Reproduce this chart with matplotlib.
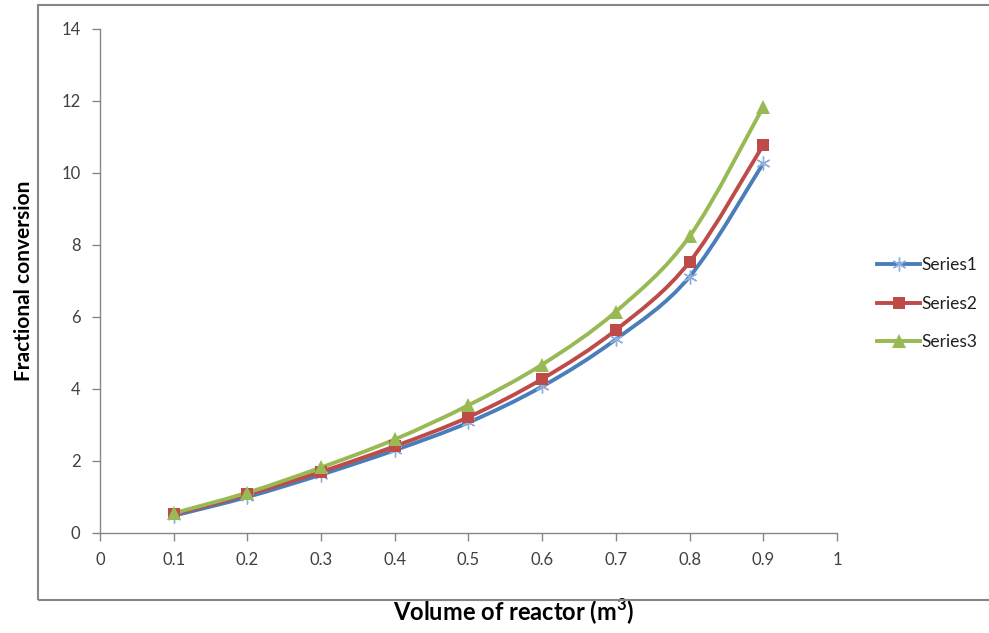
import matplotlib.pyplot as plt
import numpy as np
from matplotlib.path import Path
from matplotlib.patches import PathPatch, Rectangle
from matplotlib.lines import Line2D

plt.rcParams['font.family'] = ['Lato', 'DejaVu Sans']
plt.rcParams['mathtext.fontset'] = 'custom'
plt.rcParams['mathtext.bf'] = 'Lato:bold'

volume = [0.1, 0.2, 0.3, 0.4, 0.5, 0.6, 0.7, 0.8, 0.9]
series1 = [0.48, 1.0, 1.62, 2.3, 3.07, 4.07, 5.38, 7.12, 10.27]
series2 = [0.52, 1.07, 1.7, 2.41, 3.22, 4.28, 5.64, 7.53, 10.78]
series3 = [0.55, 1.12, 1.82, 2.6, 3.55, 4.68, 6.15, 8.24, 11.84]
names = ['Series1', 'Series2', 'Series3']

xticks = [0, 0.1, 0.2, 0.3, 0.4, 0.5, 0.6, 0.7, 0.8, 0.9, 1]
xtick_labels = ['0', '0.1', '0.2', '0.3', '0.4', '0.5', '0.6', '0.7', '0.8', '0.9', '1']
yticks = [0, 2, 4, 6, 8, 10, 12, 14]

line_colors = ['#4a7ebb', '#be4b48', '#98b954']
marker_colors = ['#8fb0dc', '#be4b48', '#98b954']
markers = [(6, 2, 0), 's', '^']
msizes = [10, 9, 10]


def smooth_path(x, y, t=1/6):
    # excel-style smoothed line: bezier through each point
    x = np.asarray(x, float)
    y = np.asarray(y, float)
    n = len(x)
    verts = [(x[0], y[0])]
    codes = [Path.MOVETO]
    for i in range(n - 1):
        p0 = (x[max(i - 1, 0)], y[max(i - 1, 0)])
        p1 = (x[i], y[i])
        p2 = (x[i + 1], y[i + 1])
        p3 = (x[min(i + 2, n - 1)], y[min(i + 2, n - 1)])
        c1 = (p1[0] + (p2[0] - p0[0]) * t, p1[1] + (p2[1] - p0[1]) * t)
        c2 = (p2[0] - (p3[0] - p1[0]) * t, p2[1] - (p3[1] - p1[1]) * t)
        verts += [c1, c2, p2]
        codes += [Path.CURVE4] * 3
    return Path(verts, codes)


fig = plt.figure(figsize=(9.89, 6.33), dpi=100)
ax = fig.add_axes([0.1011, 0.158, 0.7452, 0.7962])

fig.patches.append(Rectangle((38 / 989, 33 / 633), 1.0, 595 / 633,
                             transform=fig.transFigure, fill=False,
                             edgecolor='#868686', linewidth=1.5))

handles = []
for ys, name, lc, mc, mk, ms in zip([series1, series2, series3], names,
                                    line_colors, marker_colors, markers, msizes):
    ax.add_patch(PathPatch(smooth_path(volume, ys), fill=False,
                           edgecolor=lc, linewidth=2.8, zorder=2))
    if mk == markers[0]:
        ax.plot(volume, ys, linestyle='none', marker=mk, markersize=ms,
                markeredgecolor=mc, markerfacecolor=mc, markeredgewidth=1.0, zorder=3)
    else:
        ax.plot(volume, ys, linestyle='none', marker=mk, markersize=ms,
                color=mc, markeredgewidth=0, zorder=3)
    handles.append(Line2D([], [], color=lc, linewidth=2.8, marker=mk,
                          markersize=ms, markerfacecolor=mc, markeredgecolor=mc,
                          markeredgewidth=1.0 if mk == markers[0] else 0))

ax.set_xlim(0, 1)
ax.set_ylim(0, 14)
ax.set_xticks(xticks)
ax.set_xticklabels(xtick_labels)
ax.set_yticks(yticks)

ax.spines['right'].set_visible(False)
ax.spines['top'].set_visible(False)
for s in ['left', 'bottom']:
    ax.spines[s].set_color('#868686')
    ax.spines[s].set_linewidth(1.0)
ax.tick_params(axis='both', colors='#868686', labelcolor='#404040',
               labelsize=12, length=6, width=1.0, direction='out', pad=8)

ax.set_xlabel('Volume of reactor (m$^\\mathbf{3}$)', fontsize=17, fontweight='bold')
ax.xaxis.set_label_coords(0.562, -0.157)
ax.xaxis.label.set_va('center')
ax.set_ylabel('Fractional conversion', fontsize=15, fontweight='bold', labelpad=20)

ax.legend(handles=handles, labels=names, loc='center left',
          bbox_to_anchor=(1.033, 0.455), frameon=False, fontsize=12.5,
          handlelength=2.5, handletextpad=0.05, labelspacing=1.3,
          labelcolor='#202020')

fig.savefig('out.png', dpi=100)
